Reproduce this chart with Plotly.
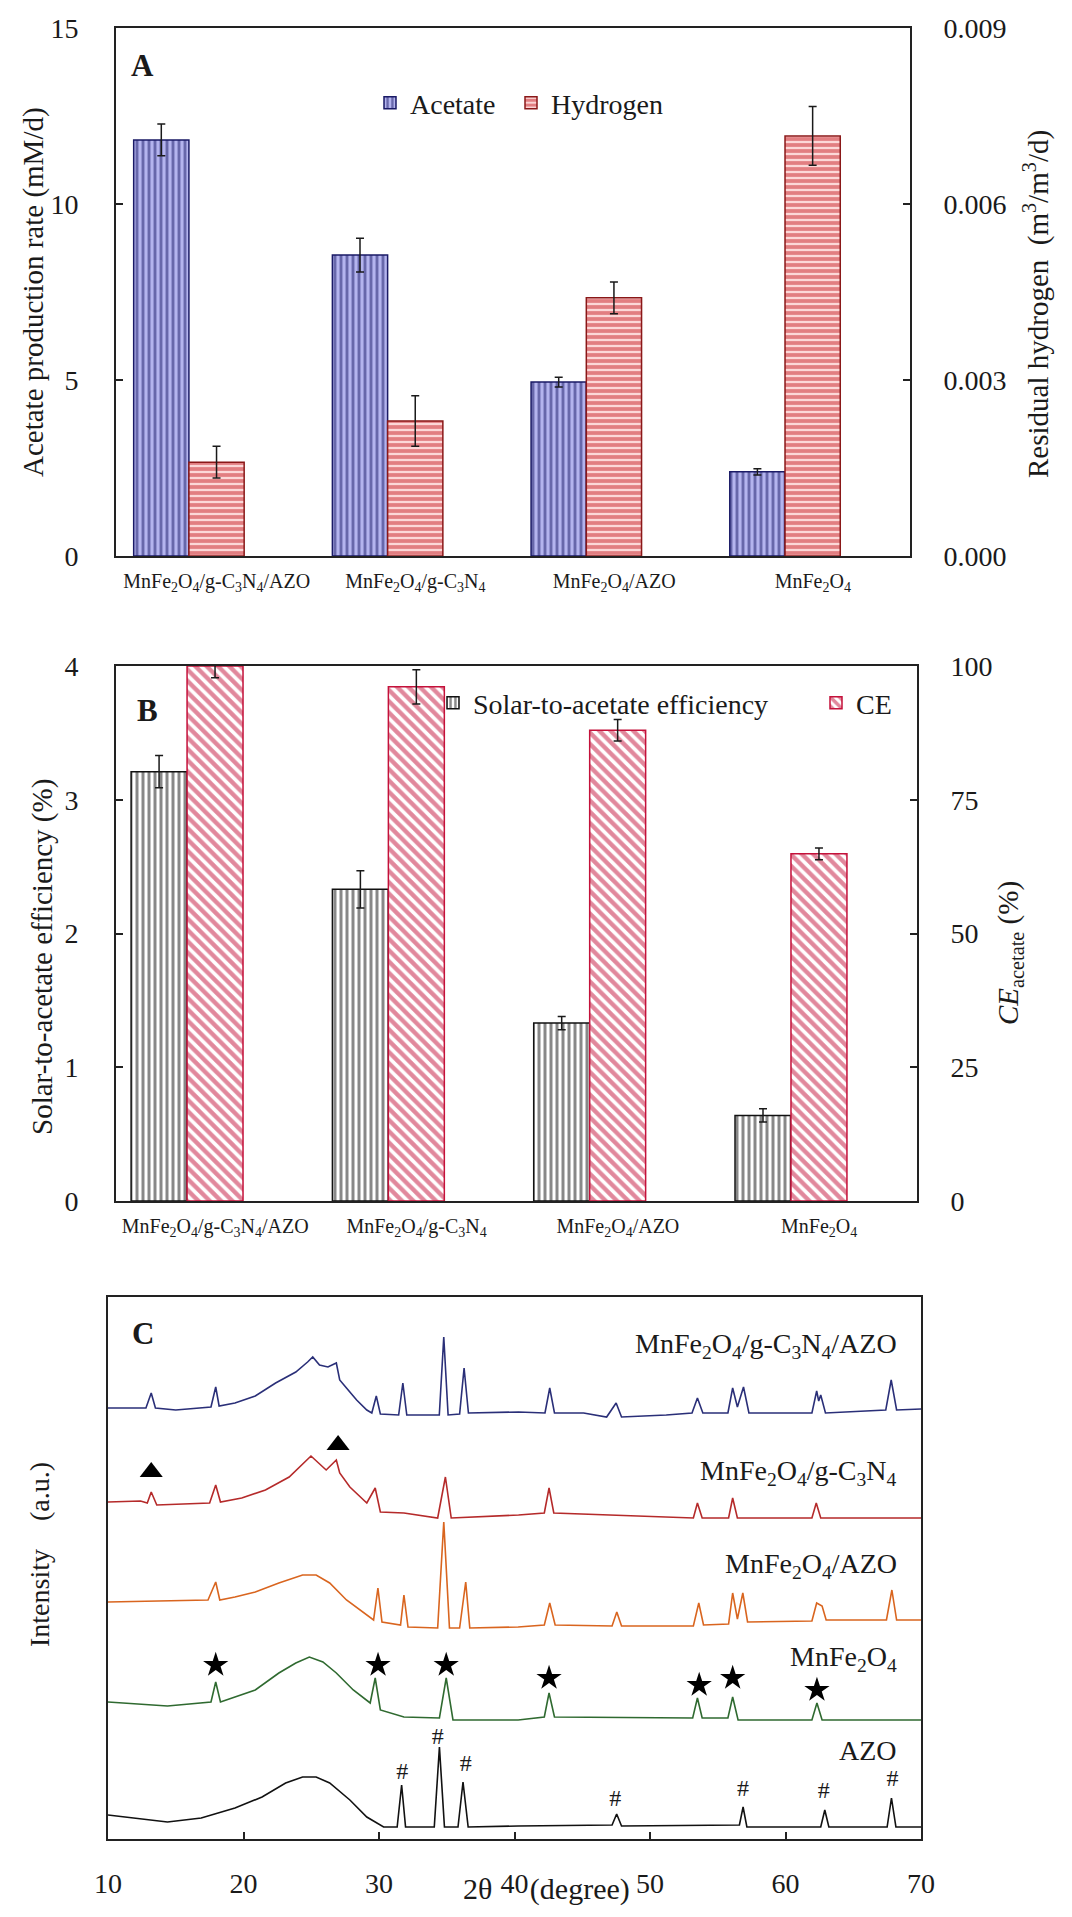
import plotly.graph_objects as go

W, H = 1072, 1917          # window size
OFF = 8                    # default body margin of the page
WF, HF = W - 2 * OFF, H - 2 * OFF
SERIF = "Liberation Serif"
INK = "#1a1a1a"

# ---------------- data: panels A & B ----------------
categories = [
    "MnFe<sub>2</sub>O<sub>4</sub>/g-C<sub>3</sub>N<sub>4</sub>/AZO",
    "MnFe<sub>2</sub>O<sub>4</sub>/g-C<sub>3</sub>N<sub>4</sub>",
    "MnFe<sub>2</sub>O<sub>4</sub>/AZO",
    "MnFe<sub>2</sub>O<sub>4</sub>",
]
acetate = [11.82, 8.55, 4.94, 2.39]
acetate_err = [0.45, 0.48, 0.14, 0.09]
hydrogen = [0.0016, 0.0023, 0.0044, 0.00716]
hydrogen_err = [0.00027, 0.00043, 0.00027, 0.0005]
solar_eff = [3.21, 2.33, 1.33, 0.64]
solar_err = [0.12, 0.14, 0.05, 0.05]
ce_acetate = [100.0, 96.1, 88.0, 64.9]
ce_err = [2.2, 3.2, 2.0, 1.1]

left_ticks_A = [0, 5, 10, 15]
right_ticks_A = [0.0, 0.003, 0.006, 0.009]
right_ticktext_A = ["0.000", "0.003", "0.006", "0.009"]
left_ticks_B = [0, 1, 2, 3, 4]
right_ticks_B = [0, 25, 50, 75, 100]

# ---------------- data: panel C (XRD, arbitrary units) ----------------
tt_comp = [10.0, 12.8, 13.19, 13.5, 15.0, 17.6, 17.95, 18.2, 19.37, 20.87, 22.37, 23.86, 24.73, 25.11,
           25.61, 26.23, 26.85, 27.1, 27.6, 28.35, 29.1, 29.47, 29.8, 30.1, 31.45, 31.76, 32.05, 34.45,
           34.78, 35.1, 35.95, 36.28, 36.6, 40.3, 42.25, 42.6, 42.95, 45.1, 46.8, 47.5, 47.9, 51.2, 53.1,
           53.5, 53.9, 55.75, 56.1, 56.45, 56.9, 57.3, 61.95, 62.3, 62.45, 62.6, 62.95, 67.4, 67.8, 68.2, 70.0]
i_comp = [431, 431, 446, 431, 429, 432, 452, 433, 436, 443, 456, 467, 477, 482,
          474, 472, 476, 459, 451, 439, 429, 426, 443, 425, 424, 456, 424, 424,
          502, 424, 425, 471, 426, 427, 426, 451, 426, 426, 422, 436, 422, 424, 426,
          441, 426, 426, 451, 432, 452, 426, 426, 448, 438, 444, 426, 429, 459, 429, 430]

tt_mfcn = [10.0, 12.4, 12.9, 13.19, 13.6, 17.5, 17.95, 18.3, 19.87, 21.62, 23.37, 24.98, 26.1, 26.85,
           27.1, 27.85, 29.1, 29.72, 30.1, 31.84, 34.33, 34.9, 35.33, 40.3, 42.2, 42.55, 42.9, 53.2,
           53.5, 53.85, 55.8, 56.1, 56.45, 61.95, 62.27, 62.6, 70.0]
i_mfcn = [337, 338, 336, 347, 334, 336, 354, 337, 341, 349, 362, 383, 369, 379,
          366, 352, 336, 351, 327, 326, 321, 362, 321, 324, 326, 351, 326, 321,
          336, 321, 321, 341, 321, 321, 336, 321, 321]

tt_mfazo = [10.0, 17.38, 17.95, 18.25, 19.37, 20.87, 22.61, 24.36, 25.36, 26.36, 27.6, 28.85, 29.6,
            29.92, 30.22, 31.59, 31.84, 32.14, 34.33, 34.78, 35.2, 35.95, 36.4, 36.7, 40.27, 42.2,
            42.6, 43.0, 47.2, 47.55, 47.9, 53.2, 53.6, 53.95, 55.8, 56.1, 56.45, 56.85, 57.2, 61.95,
            62.3, 62.7, 63.0, 67.45, 67.85, 68.2, 70.0]
i_mfazo = [237, 239, 257, 239, 242, 247, 256, 264, 264, 256, 239, 226, 219,
           251, 217, 214, 244, 212, 211, 317, 211, 211, 257, 211, 212, 214,
           236, 214, 213, 227, 213, 213, 236, 214, 215, 246, 220, 246, 217, 218,
           236, 233, 219, 219, 249, 219, 219]

tt_mf = [10.0, 14.39, 17.6, 17.95, 18.3, 19.37, 20.87, 22.61, 23.86, 24.86, 25.86, 26.85, 28.1, 29.35,
         29.72, 30.1, 31.84, 34.46, 34.96, 35.46, 40.27, 42.2, 42.55, 42.95, 53.15, 53.5, 53.85, 55.75,
         56.1, 56.5, 61.95, 62.32, 62.7, 70.0]
i_mf = [137, 133, 137, 157, 137, 142, 149, 166, 176, 182, 177, 166, 149, 136,
        161, 129, 122, 121, 161, 119, 119, 122, 146, 122, 121, 141, 121, 121,
        142, 119, 119, 136, 119, 119]

tt_azo = [10.0, 14.39, 16.88, 19.37, 21.37, 23.11, 24.36, 25.36, 26.36, 27.85, 29.1, 30.34, 31.34, 31.67,
          31.96, 34.08, 34.46, 34.83, 35.83, 36.2, 36.58, 40.27, 47.2, 47.54, 47.9, 56.6, 56.87, 57.15,
          62.6, 62.9, 63.2, 67.5, 67.82, 68.15, 70.0]
i_azo = [24, 17, 21, 31, 42, 56, 62, 62, 56, 39, 22, 12, 12, 54,
         12, 12, 92, 12, 12, 57, 12, 13, 14, 25, 13, 14, 32, 12,
         12, 29, 12, 12, 41, 12, 12]

curve_names = ["MnFe<sub>2</sub>O<sub>4</sub>/g-C<sub>3</sub>N<sub>4</sub>/AZO",
               "MnFe<sub>2</sub>O<sub>4</sub>/g-C<sub>3</sub>N<sub>4</sub>",
               "MnFe<sub>2</sub>O<sub>4</sub>/AZO",
               "MnFe<sub>2</sub>O<sub>4</sub>",
               "AZO"]
curve_label_y = [494, 367, 274, 181, 89]
curve_label_x = 68.4

tri_x = [13.19, 26.98]
tri_y = [367, 394]
star_x = [17.95, 29.93, 34.96, 42.55, 53.63, 56.1, 62.32]
star_y = [174, 174, 174, 161, 154, 161, 149]
hash_x = [31.71, 34.33, 36.4, 47.44, 56.87, 62.82, 67.9]
hash_y = [66, 101, 74, 39, 49, 47, 59]
xticks_C = [10, 20, 30, 40, 50, 60, 70]


def px(p):
    return (p - OFF) / WF


def py(p):
    return 1 - (p - OFF) / HF


fig = go.Figure()
idx = list(range(len(categories)))
bw = 0.278

# ---------------- Panel A ----------------
fig.add_trace(go.Bar(
    x=idx, y=acetate, width=bw, offset=-bw, xaxis="x", yaxis="y", name="Acetate",
    marker=dict(color="#b4b4ee", line=dict(color="#1a1a66", width=1.5),
                pattern=dict(shape="|", fgcolor="#1a1a66", bgcolor="#b4b4ee", size=6, solidity=0.48)),
    error_y=dict(type="data", array=acetate_err, color=INK, thickness=1.5, width=4),
    legend="legend"))
fig.add_trace(go.Bar(
    x=idx, y=hydrogen, width=bw, offset=0, xaxis="x", yaxis="y2", name="Hydrogen",
    marker=dict(color="#fcd8d8", line=dict(color="#8a1818", width=1.5),
                pattern=dict(shape="-", fgcolor="#c8232a", bgcolor="#fcd8d8", size=6, solidity=0.62)),
    error_y=dict(type="data", array=hydrogen_err, color=INK, thickness=1.5, width=4),
    legend="legend2"))

# ---------------- Panel B ----------------
fig.add_trace(go.Bar(
    x=idx, y=solar_eff, width=bw, offset=-bw, xaxis="x2", yaxis="y3", name="Solar-to-acetate efficiency",
    marker=dict(color="white", line=dict(color="#111111", width=1.5),
                pattern=dict(shape="|", fgcolor="#111111", bgcolor="white", size=6, solidity=0.5)),
    error_y=dict(type="data", array=solar_err, color=INK, thickness=1.5, width=4),
    legend="legend3"))
fig.add_trace(go.Bar(
    x=idx, y=ce_acetate, width=bw, offset=0, xaxis="x2", yaxis="y4", name="CE",
    marker=dict(color="white", line=dict(color="#c4113a", width=1.5),
                pattern=dict(shape="\\", fgcolor="#c4113a", bgcolor="white", size=8, solidity=0.55)),
    error_y=dict(type="data", array=ce_err, color=INK, thickness=1.5, width=4),
    legend="legend4"))

# ---------------- Panel C ----------------
curve_colors = ["#2a2f78", "#b52a2a", "#d9651f", "#2f6a30", "#111111"]
curves = [(tt_comp, i_comp), (tt_mfcn, i_mfcn), (tt_mfazo, i_mfazo), (tt_mf, i_mf), (tt_azo, i_azo)]
for (tx, iy), col, nm in zip(curves, curve_colors, curve_names):
    fig.add_trace(go.Scatter(x=tx, y=iy, mode="lines", xaxis="x3", yaxis="y5",
                             line=dict(color=col, width=1.6), showlegend=False, name=nm))
fig.add_trace(go.Scatter(x=tri_x, y=tri_y, mode="markers", xaxis="x3", yaxis="y5", showlegend=False,
                         marker=dict(symbol="triangle-up", size=20, color="black")))
fig.add_trace(go.Scatter(x=star_x, y=star_y, mode="markers", xaxis="x3", yaxis="y5", showlegend=False,
                         marker=dict(symbol="star", size=19, color="black")))
fig.add_trace(go.Scatter(x=hash_x, y=hash_y, mode="text", text=["#"] * len(hash_x), xaxis="x3", yaxis="y5",
                         showlegend=False, textfont=dict(family=SERIF, size=24, color=INK)))

axis_common = dict(showline=True, linecolor="#222222", linewidth=2, showgrid=False, zeroline=False,
                   tickfont=dict(family=SERIF, size=28, color=INK), ticks="inside", ticklen=7,
                   tickcolor="#222222", tickwidth=1.5, automargin=False)
cat_common = dict(showline=True, linecolor="#222222", linewidth=2, mirror=True, showgrid=False,
                  zeroline=False, ticks="", tickvals=[i + 0.14 for i in idx], ticktext=categories,
                  tickfont=dict(family=SERIF, size=20, color=INK), ticklabelstandoff=6, automargin=False)

legend_common = dict(orientation="h", xanchor="left", yanchor="middle", bgcolor="rgba(0,0,0,0)",
                     font=dict(family=SERIF, size=28, color=INK), borderwidth=0)

fig.update_layout(
    width=WF, height=HF, margin=dict(l=0, r=0, t=0, b=0, pad=0, autoexpand=False),
    paper_bgcolor="white", plot_bgcolor="white",
    font=dict(family=SERIF, color=INK),
    barmode="overlay",
    xaxis=dict(cat_common, domain=[px(116), px(910)], range=[-0.367, 3.629], anchor="y"),
    yaxis=dict(axis_common, domain=[py(556), py(28)], range=[0, 15], tickvals=left_ticks_A,
               anchor="x", ticklabelstandoff=30),
    yaxis2=dict(axis_common, overlaying="y", side="right", range=[0, 0.009], tickvals=right_ticks_A,
                ticktext=right_ticktext_A, anchor="x", ticklabelstandoff=26),
    xaxis2=dict(cat_common, domain=[px(116), px(917)], range=[-0.353, 3.626], anchor="y3"),
    yaxis3=dict(axis_common, domain=[py(1201), py(666)], range=[0, 4], tickvals=left_ticks_B,
                anchor="x2", ticklabelstandoff=30),
    yaxis4=dict(axis_common, overlaying="y3", side="right", range=[0, 100], tickvals=right_ticks_B,
                anchor="x2", ticklabelstandoff=26),
    xaxis3=dict(axis_common, domain=[px(108), px(921)], range=[10, 70], tickvals=xticks_C, mirror=True,
                anchor="y5", ticklabelstandoff=18),
    yaxis5=dict(showline=True, linecolor="#222222", linewidth=2, mirror=True, showgrid=False,
                zeroline=False, showticklabels=False, ticks="", domain=[py(1839), py(1297)],
                range=[0, 542], anchor="x3", automargin=False),
    legend=dict(legend_common, x=px(370), y=py(103)),
    legend2=dict(legend_common, x=px(511), y=py(103)),
    legend3=dict(legend_common, x=px(433), y=py(703)),
    legend4=dict(legend_common, x=px(816), y=py(703)),
)

ann = []
def add_text(text, x, y, size=28, angle=0, xanchor="center", yanchor="middle", xref="paper", yref="paper"):
    ann.append(dict(text=text, x=x, y=y, xref=xref, yref=yref, showarrow=False, textangle=angle,
                    xanchor=xanchor, yanchor=yanchor, font=dict(family=SERIF, size=size, color=INK)))

add_text("<b>A</b>", px(142), py(65), size=31)
add_text("<b>B</b>", px(147), py(710), size=31)
add_text("<b>C</b>", px(143), py(1333), size=31)
add_text("Acetate production rate (mM/d)", px(33), py(292), size=29, angle=-90)
add_text("Residual hydrogen\u00a0\u00a0(m<sup>3</sup>/m<sup>3</sup>/d)", px(1036), py(304), size=29, angle=-90)
add_text("Solar-to-acetate efficiency (%)", px(43), py(957), size=29, angle=-90)
add_text("<i>CE</i><sub>acetate</sub> (%)", px(1010), py(953), size=29, angle=-90)
add_text("Intensity\u00a0\u00a0\u00a0\u00a0(a.u.)", px(39), py(1555), size=28, angle=-90)
add_text("2θ\u00a0\u00a0\u00a0\u00a0\u00a0(degree)", px(546), py(1889), size=30)
for name, ly in zip(curve_names, curve_label_y):
    add_text(name, curve_label_x, ly, size=28, xanchor="right", xref="x3", yref="y5")
fig.update_layout(annotations=ann)

fig.write_html("out.html", include_plotlyjs=True, full_html=True,
               config={"displayModeBar": False})
